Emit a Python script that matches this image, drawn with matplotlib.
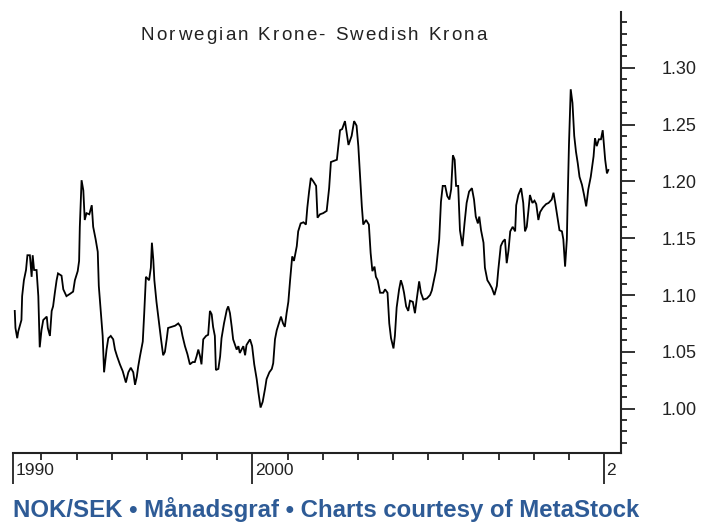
import matplotlib
matplotlib.use("Agg")
import matplotlib.pyplot as plt
import numpy as np
from matplotlib.ticker import MultipleLocator, FixedLocator
from matplotlib.font_manager import FontProperties

# NOK/SEK (decimal year, rate)
dates = [
    1993.24, 1993.26, 1993.31, 1993.34, 1993.43, 1993.45, 1993.50, 1993.56, 1993.60, 1993.67,
    1993.72, 1993.75, 1993.79, 1993.86, 1993.91, 1993.95, 1994.00, 1994.05, 1994.15, 1994.18,
    1994.24, 1994.29, 1994.33, 1994.38, 1994.43, 1994.47, 1994.57, 1994.62, 1994.71, 1994.81,
    1994.90, 1994.95, 1995.03, 1995.07, 1995.09, 1995.14, 1995.19, 1995.23, 1995.28, 1995.36,
    1995.43, 1995.47, 1995.54, 1995.60, 1995.63, 1995.69, 1995.74, 1995.78, 1995.85, 1995.90,
    1995.97, 1996.04, 1996.09, 1996.15, 1996.23, 1996.31, 1996.40, 1996.47, 1996.54, 1996.61,
    1996.66, 1996.71, 1996.75, 1996.80, 1996.88, 1996.92, 1996.97, 1997.06, 1997.11, 1997.14,
    1997.18, 1997.21, 1997.27, 1997.32, 1997.40, 1997.46, 1997.51, 1997.56, 1997.60, 1997.70,
    1997.80, 1997.89, 1997.96, 1998.01, 1998.08, 1998.15, 1998.22, 1998.30, 1998.36, 1998.41,
    1998.46, 1998.51, 1998.55, 1998.60, 1998.68, 1998.74, 1998.79, 1998.84, 1998.88, 1998.93,
    1998.96, 1999.03, 1999.08, 1999.12, 1999.19, 1999.27, 1999.31, 1999.36, 1999.41, 1999.45,
    1999.55, 1999.60, 1999.64, 1999.74, 1999.79, 1999.83, 1999.93, 1999.99, 2000.05, 2000.12,
    2000.17, 2000.23, 2000.29, 2000.36, 2000.40, 2000.48, 2000.55, 2000.59, 2000.64, 2000.69,
    2000.75, 2000.81, 2000.87, 2000.92, 2000.97, 2001.02, 2001.07, 2001.13, 2001.18, 2001.26,
    2001.30, 2001.37, 2001.45, 2001.52, 2001.56, 2001.61, 2001.66, 2001.73, 2001.81, 2001.85,
    2001.92, 2002.01, 2002.11, 2002.18, 2002.23, 2002.40, 2002.49, 2002.55, 2002.63, 2002.73,
    2002.82, 2002.89, 2002.96, 2003.01, 2003.06, 2003.11, 2003.15, 2003.23, 2003.31, 2003.36,
    2003.41, 2003.47, 2003.51, 2003.56, 2003.63, 2003.72, 2003.77, 2003.84, 2003.89, 2003.94,
    2004.01, 2004.05, 2004.10, 2004.17, 2004.22, 2004.27, 2004.31, 2004.37, 2004.43, 2004.48,
    2004.56, 2004.62, 2004.67, 2004.74, 2004.79, 2004.86, 2004.96, 2005.05, 2005.10, 2005.16,
    2005.22, 2005.27, 2005.31, 2005.36, 2005.41, 2005.48, 2005.54, 2005.60, 2005.65, 2005.70,
    2005.75, 2005.79, 2005.85, 2005.90, 2005.97, 2006.03, 2006.09, 2006.16, 2006.24, 2006.30,
    2006.35, 2006.41, 2006.45, 2006.50, 2006.57, 2006.61, 2006.68, 2006.74, 2006.81, 2006.88,
    2006.95, 2006.99, 2007.06, 2007.12, 2007.18, 2007.23, 2007.28, 2007.33, 2007.40, 2007.47,
    2007.50, 2007.56, 2007.64, 2007.70, 2007.75, 2007.80, 2007.85, 2007.89, 2007.96, 2008.02,
    2008.07, 2008.13, 2008.18, 2008.26, 2008.35, 2008.42, 2008.51, 2008.56, 2008.61, 2008.67,
    2008.73, 2008.80, 2008.84, 2008.89, 2008.94, 2008.96, 2009.00, 2009.05, 2009.10, 2009.15,
    2009.20, 2009.25, 2009.30, 2009.37, 2009.43, 2009.49, 2009.55, 2009.62, 2009.70, 2009.74,
    2009.79, 2009.85, 2009.91, 2009.96, 2010.03, 2010.08, 2010.12,
]
rates = [
    1.086, 1.071, 1.062, 1.068, 1.078, 1.099, 1.113, 1.122, 1.135, 1.135,
    1.116, 1.135, 1.122, 1.122, 1.099, 1.054, 1.069, 1.078, 1.081, 1.071,
    1.064, 1.086, 1.090, 1.102, 1.113, 1.119, 1.117, 1.105, 1.099, 1.101,
    1.103, 1.113, 1.121, 1.130, 1.160, 1.201, 1.192, 1.166, 1.172, 1.171,
    1.179, 1.160, 1.149, 1.138, 1.108, 1.084, 1.064, 1.032, 1.052, 1.062,
    1.064, 1.061, 1.052, 1.046, 1.039, 1.033, 1.023, 1.032, 1.036, 1.032,
    1.021, 1.028, 1.037, 1.046, 1.059, 1.083, 1.116, 1.113, 1.124, 1.146,
    1.131, 1.113, 1.094, 1.081, 1.061, 1.047, 1.050, 1.061, 1.071, 1.072,
    1.073, 1.075, 1.072, 1.064, 1.055, 1.048, 1.039, 1.041, 1.041, 1.046,
    1.052, 1.046, 1.039, 1.061, 1.064, 1.065, 1.086, 1.083, 1.072, 1.064,
    1.034, 1.035, 1.046, 1.062, 1.075, 1.087, 1.090, 1.084, 1.072, 1.061,
    1.052, 1.055, 1.049, 1.055, 1.047, 1.056, 1.061, 1.055, 1.039, 1.026,
    1.014, 1.001, 1.006, 1.018, 1.026, 1.032, 1.035, 1.040, 1.061, 1.069,
    1.075, 1.081, 1.075, 1.072, 1.084, 1.094, 1.113, 1.134, 1.130, 1.143,
    1.156, 1.163, 1.164, 1.162, 1.177, 1.191, 1.203, 1.200, 1.196, 1.168,
    1.171, 1.172, 1.174, 1.194, 1.217, 1.219, 1.245, 1.246, 1.253, 1.232,
    1.240, 1.253, 1.249, 1.231, 1.204, 1.178, 1.162, 1.166, 1.162, 1.137,
    1.121, 1.125, 1.116, 1.113, 1.102, 1.102, 1.105, 1.102, 1.075, 1.062,
    1.053, 1.064, 1.089, 1.105, 1.113, 1.108, 1.102, 1.090, 1.086, 1.095,
    1.094, 1.084, 1.096, 1.112, 1.102, 1.096, 1.097, 1.100, 1.104, 1.113,
    1.122, 1.137, 1.149, 1.182, 1.196, 1.196, 1.187, 1.184, 1.193, 1.223,
    1.219, 1.196, 1.196, 1.157, 1.143, 1.163, 1.181, 1.191, 1.194, 1.184,
    1.169, 1.163, 1.169, 1.157, 1.146, 1.124, 1.113, 1.110, 1.106, 1.100,
    1.108, 1.122, 1.143, 1.147, 1.149, 1.128, 1.139, 1.156, 1.160, 1.156,
    1.179, 1.188, 1.194, 1.181, 1.156, 1.160, 1.175, 1.188, 1.181, 1.183,
    1.180, 1.166, 1.173, 1.177, 1.180, 1.181, 1.184, 1.190, 1.181, 1.169,
    1.157, 1.156, 1.149, 1.125, 1.149, 1.179, 1.232, 1.281, 1.269, 1.240,
    1.226, 1.216, 1.204, 1.197, 1.188, 1.178, 1.193, 1.204, 1.222, 1.238,
    1.231, 1.237, 1.237, 1.245, 1.219, 1.207, 1.210,
]

x_start, x_end = 1993.19, 2010.48
major_years = [x_start, 2000, 2010]
major_labels = ["1990", "2000", "2"]
minor_years = list(range(1994, 2010))
y_labels = [1.00, 1.05, 1.10, 1.15, 1.20, 1.25, 1.30]

title = "Norwegian Krone- Swedish Krona"
footer = "NOK/SEK \u2022 M\u00e5nadsgraf \u2022 Charts courtesy of MetaStock"

plt.rcParams['font.family'] = ['Liberation Sans', 'DejaVu Sans']
W, H = 711, 525

fig = plt.figure(figsize=(W / 100, H / 100), dpi=100)
ax = fig.add_axes([13 / W, 1 - 453 / H, (621 - 13) / W, (453 - 12) / H])

ax.plot(dates, rates, color='black', lw=1.3, solid_joinstyle='miter')

ax.set_xlim(x_start, x_end)
ax.set_ylim(0.961, 1.349)

for side in ['left', 'top']:
    ax.spines[side].set_visible(False)
for side in ['right', 'bottom']:
    ax.spines[side].set_linewidth(1.5)
    ax.spines[side].set_color('#222222')

# right axis
ax.yaxis.tick_right()
ax.yaxis.set_major_locator(FixedLocator(y_labels))
ax.yaxis.set_minor_locator(MultipleLocator(0.01))
ax.set_yticklabels([f"{v:.2f}" for v in y_labels])
ax.tick_params(axis='y', which='major', direction='out', length=10, width=1.3,
               pad=19, labelsize=13, labelcolor='#222222', color='#222222')
ax.tick_params(axis='y', which='minor', direction='out', length=4.5, width=1.3, color='#222222')

# bottom axis
ax.xaxis.set_major_locator(FixedLocator(major_years))
ax.xaxis.set_minor_locator(FixedLocator(minor_years))
ax.set_xticklabels([])
ax.tick_params(axis='x', which='major', direction='out', length=22, width=1.3, color='#222222')
ax.tick_params(axis='x', which='minor', direction='out', length=5, width=1.3, color='#222222')
for yr, lab in zip(major_years, major_labels):
    ax.text(yr + 0.07, -0.04, lab, transform=ax.get_xaxis_transform(), ha='left',
            va='center', fontsize=12.5, color='#222222', clip_on=False)

# title with wide letter spacing, centred at x=314px, baseline y=40px
renderer = fig.canvas.get_renderer()
tprop = FontProperties(family='Liberation Sans', size=13.5)


def text_w(t):
    return renderer.get_text_width_height_descent(t, tprop, ismath=False)[0]


gap = 2.2
wx = text_w("x")
lefts = [text_w(title[:i] + "x") - wx for i in range(len(title))]
total = text_w(title) + gap * (len(title) - 1)
x0 = 314 - total / 2
for i, ch in enumerate(title):
    if ch == " ":
        continue
    fig.text((x0 + lefts[i] + gap * i) / W, 1 - 40 / H, ch, ha='left', va='baseline',
             fontproperties=tprop, color='#222222')

fig.text(13 / W, 1 - 517 / H, footer, ha='left', va='baseline', fontsize=17.3,
         fontweight='bold', color='#2e5b96')

fig.savefig('out.png', dpi=100)
